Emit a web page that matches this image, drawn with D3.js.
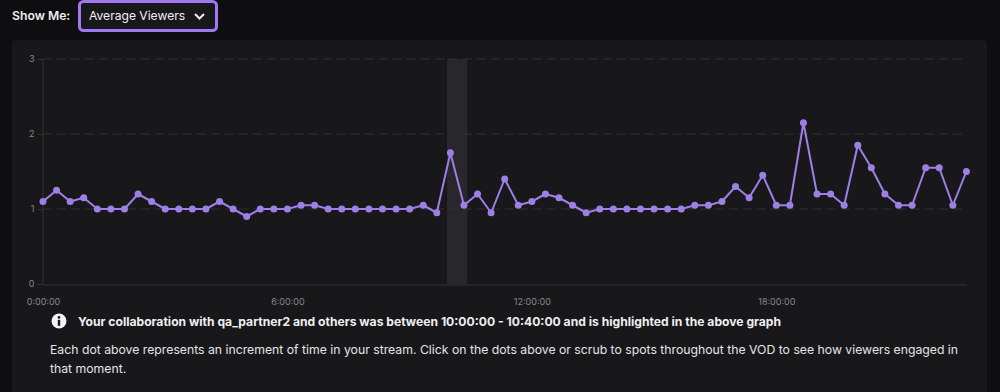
<!DOCTYPE html>
<html>
<head>
<meta charset="utf-8">
<script src="https://cdn.jsdelivr.net/npm/d3@7"></script>
<style>
    html, body { margin: 0; padding: 0; background: #0e0e10; overflow: hidden; }
    text { font-family: Inter, 'Noto Sans', sans-serif; }
</style>
</head>
<body>
<svg id="chart" width="1000" height="392"></svg>
<script>
// average viewers per 20 minute step
const viewers = [
    1.1, 1.25, 1.1, 1.15, 1, 1, 1, 1.2, 1.1, 1,
    1, 1, 1, 1.1, 1, 0.9, 1, 1, 1, 1.05,
    1.05, 1, 1, 1, 1, 1, 1, 1, 1.05, 0.95,
    1.75, 1.05, 1.2, 0.95, 1.4, 1.05, 1.1, 1.2, 1.15, 1.05,
    0.95, 1, 1, 1, 1, 1, 1, 1, 1.05, 1.05,
    1.1, 1.3, 1.15, 1.45, 1.05, 1.05, 2.15, 1.2, 1.2, 1.05,
    1.85, 1.55, 1.2, 1.05, 1.05, 1.55, 1.55, 1.05, 1.5
]
const minutes = viewers.map((v, i) => i * 20)
const yTicks = [0, 1, 2, 3]
const xTicks = [0, 360, 720, 1080]
const highlight = [595, 625]

const purple = '#9d7fe6'
const svg = d3.select('#chart')

const x = d3.scaleLinear().domain([0, 1360]).range([43, 966.4])
const y = d3.scaleLinear().domain([0, 3]).range([284, 59])

function formatTime (m) {
    return `${Math.floor(m / 60)}:${String(m % 60).padStart(2, '0')}:00`
}

// panel
svg.append('rect')
    .attr('x', 12).attr('y', 40)
    .attr('width', 975).attr('height', 380)
    .attr('rx', 4)
    .attr('fill', '#18181b')

// show me dropdown
svg.append('text')
    .attr('x', 12).attr('y', 19.5)
    .attr('font-size', 12.2).attr('font-weight', 600)
    .attr('fill', '#efeff1')
    .text('Show Me:')

svg.append('rect')
    .attr('x', 79.5).attr('y', 1.5)
    .attr('width', 137).attr('height', 29)
    .attr('rx', 4)
    .attr('fill', '#18181b')
    .attr('stroke', '#a078f0')
    .attr('stroke-width', 3)

svg.append('text')
    .attr('x', 89).attr('y', 20.3)
    .attr('font-size', 12.1)
    .attr('fill', '#efeff1')
    .text('Average Viewers')

svg.append('path')
    .attr('d', 'M 195 14 L 199.5 18.5 L 204 14')
    .attr('fill', 'none')
    .attr('stroke', '#efeff1')
    .attr('stroke-width', 2)

// highlighted collaboration
svg.append('rect')
    .attr('x', x(highlight[0]))
    .attr('y', y(3))
    .attr('width', x(highlight[1]) - x(highlight[0]))
    .attr('height', y(0) - y(3))
    .attr('fill', '#28272c')

// y axis with dashed grid
const yAxis = svg.append('g')
    .attr('transform', `translate(${x(0) - 0.5}, 0)`)
    .call(d3.axisLeft(y).tickValues(yTicks).tickFormat(d3.format('d')).tickSize(5).tickPadding(3))

yAxis.select('.domain').attr('stroke', '#323236').attr('stroke-width', 1)
yAxis.selectAll('.tick line').attr('stroke', '#323236')
yAxis.selectAll('text').attr('fill', '#87878b').attr('font-size', 9).attr('font-family', null)

svg.append('g')
    .selectAll('line')
    .data(yTicks.filter(d => d > 0))
    .join('line')
    .attr('x1', x(0))
    .attr('x2', 963)
    .attr('y1', d => y(d))
    .attr('y2', d => y(d))
    .attr('stroke', '#303034')
    .attr('stroke-dasharray', '9 5')

// x axis
const xAxis = svg.append('g')
    .attr('transform', `translate(0, ${y(0) + 0.5})`)
    .call(d3.axisBottom(x).tickValues(xTicks).tickFormat(formatTime).tickSize(0).tickPadding(14))

xAxis.select('.domain').attr('stroke', '#323236').attr('stroke-width', 1)
xAxis.selectAll('text').attr('fill', '#87878b').attr('font-size', 9).attr('font-family', null)

// series
const line = d3.line()
    .x((d, i) => x(minutes[i]))
    .y(d => y(d))

svg.append('path')
    .datum(viewers)
    .attr('d', line)
    .attr('fill', 'none')
    .attr('stroke', purple)
    .attr('stroke-width', 2)
    .attr('stroke-linejoin', 'round')

svg.append('g')
    .selectAll('circle')
    .data(viewers)
    .join('circle')
    .attr('cx', (d, i) => x(minutes[i]))
    .attr('cy', d => y(d))
    .attr('r', 3.5)
    .attr('fill', purple)

// info note
const info = svg.append('g').attr('transform', 'translate(59, 321)')
info.append('circle').attr('r', 7.5).attr('fill', '#f4f4f5')
info.append('circle').attr('cy', -3.6).attr('r', 1.3).attr('fill', '#18181b')
info.append('rect')
    .attr('x', -1.2).attr('y', -1.2)
    .attr('width', 2.4).attr('height', 6)
    .attr('fill', '#18181b')

svg.append('text')
    .attr('x', 78).attr('y', 325.5)
    .attr('font-size', 12.14).attr('font-weight', 700)
    .attr('fill', '#efeff1')
    .text('Your collaboration with qa_partner2 and others was between 10:00:00 - 10:40:00 and is highlighted in the above graph')

svg.append('text')
    .attr('x', 50).attr('y', 353.6)
    .attr('font-size', 12.24)
    .attr('fill', '#e4e4e6')
    .text('Each dot above represents an increment of time in your stream. Click on the dots above or scrub to spots throughout the VOD to see how viewers engaged in')

svg.append('text')
    .attr('x', 50).attr('y', 372.6)
    .attr('font-size', 12.24)
    .attr('fill', '#e4e4e6')
    .text('that moment.')
</script>
</body>
</html>
